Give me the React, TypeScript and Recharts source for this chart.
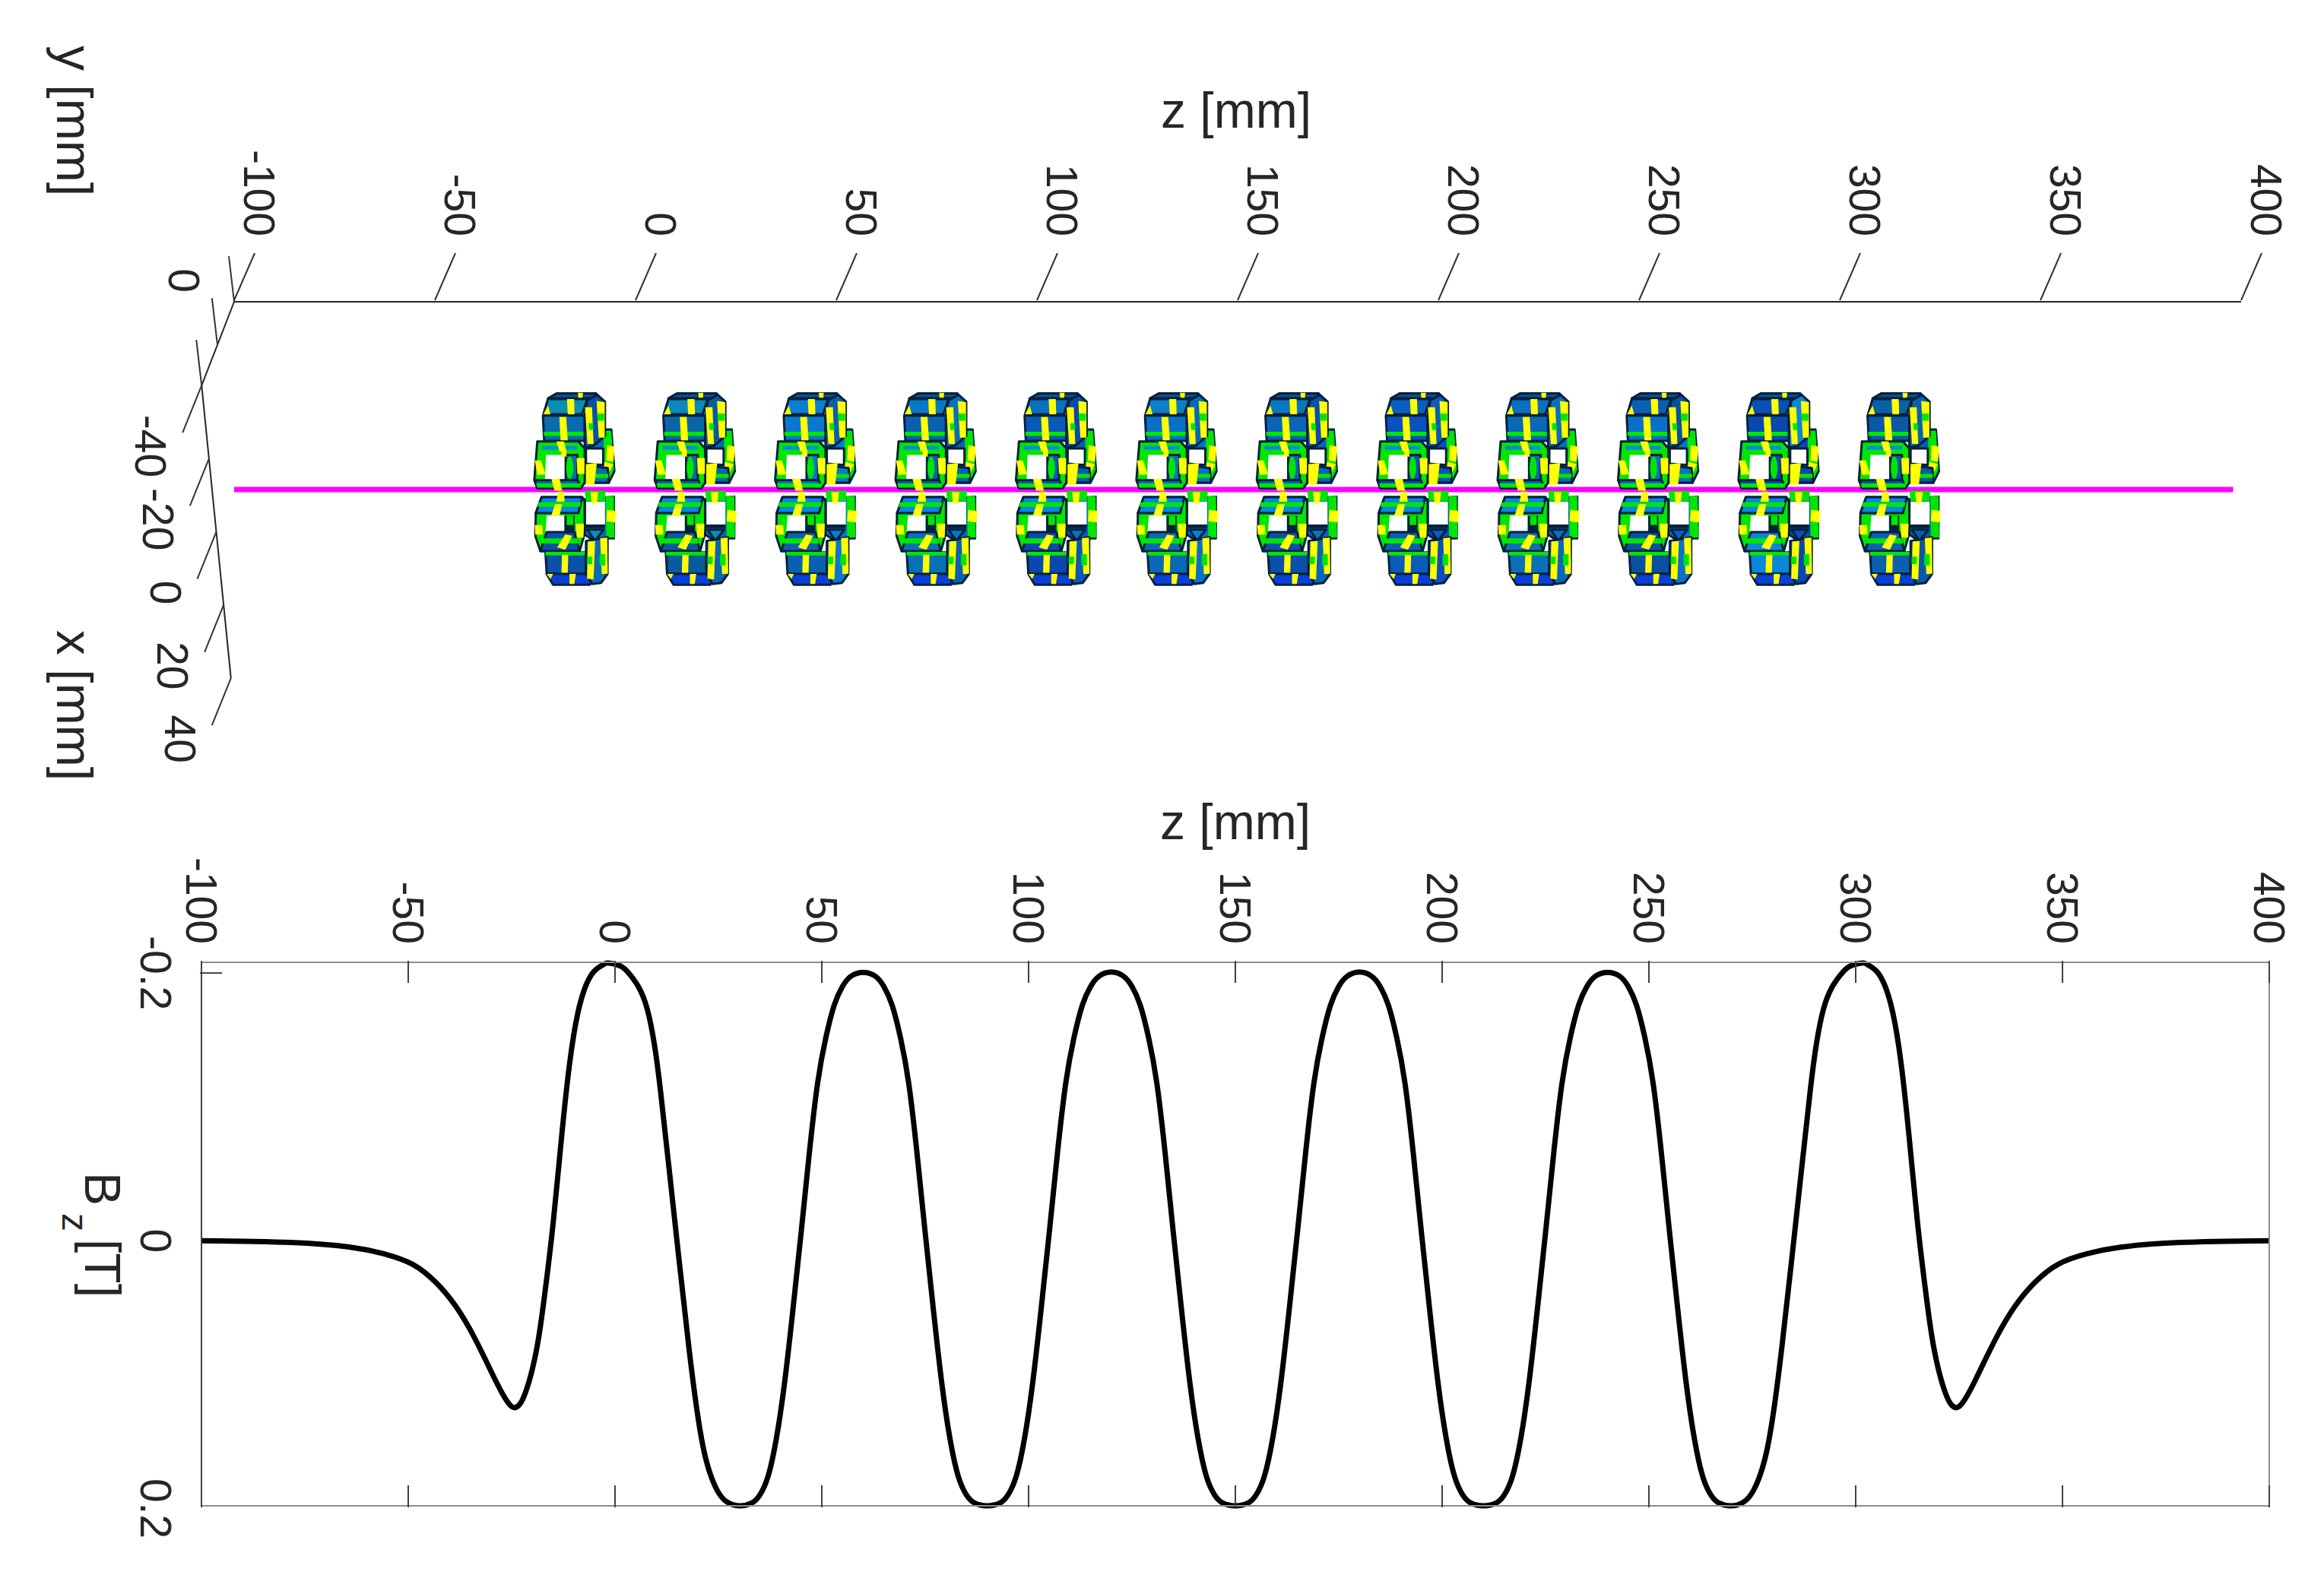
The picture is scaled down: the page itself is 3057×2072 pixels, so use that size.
import React from 'react';
import {
  ComposedChart, LineChart, Line, Scatter, XAxis, YAxis, ReferenceLine,
} from 'recharts';

// z axis, shared by both panels
const zTicks = [-100, -50, 0, 50, 100, 150, 200, 250, 300, 350, 400];

// ---- lower panel: Bz along the axis ----
const bzTicks = [-0.2, 0, 0.2];
const curveZ = [
  -100, -78.4, -64.3, -56.1, -49, -43.2, -38.5, -33.8, -29.1, -26.5, -24.7, -23, -21.5, -20, -18.5, -17, -15, -13, -11, -9, -7, -5, -3, -1.6,
  1.5, 3.7, 5.8, 7.8, 9.5, 11, 13, 15.4, 17.8, 19.6, 21.3, 23, 24.8, 27, 30,
  33, 35, 37, 39, 41, 43, 45, 47, 49, 51, 53, 55, 57, 60,
  63, 65, 67, 69, 71, 73, 75, 77, 79, 81, 83, 85, 87, 90,
  93, 95, 97, 99, 101, 103, 105, 107, 109, 111, 113, 115, 117, 120,
  123, 125, 127, 129, 131, 133, 135, 137, 139, 141, 143, 145, 147, 150,
  153, 155, 157, 159, 161, 163, 165, 167, 169, 171, 173, 175, 177, 180,
  183, 185, 187, 189, 191, 193, 195, 197, 199, 201, 203, 205, 207, 210,
  213, 215, 217, 219, 221, 223, 225, 227, 229, 231, 233, 235, 237, 240,
  243, 245, 247, 249, 251, 253, 255, 257, 259, 261, 263, 265, 267, 270,
  273, 275.2, 277, 278.7, 280.4, 282.2, 284.6, 287, 289, 290.5, 292.2, 294.2, 296.3, 298.5, 301.6,
  303, 305, 307, 309, 311, 313, 315, 317, 318.5, 320, 321.5, 323, 324.7, 326.5, 329.1, 333.8, 338.5, 343.2, 349, 356.1, 364.3, 378.4, 400,
];
const curveBz = [
  0, 0.0013, 0.0047, 0.0096, 0.0175, 0.0315, 0.049, 0.0735, 0.103, 0.118, 0.1244, 0.122, 0.112, 0.096, 0.073, 0.04, -0.012, -0.075, -0.132, -0.17, -0.191, -0.2015, -0.206, -0.2075,
  -0.205, -0.1985, -0.189, -0.173, -0.147, -0.112, -0.056, 0.012, 0.078, 0.122, 0.154, 0.174, 0.187, 0.195, 0.198,
  0.196, 0.19, 0.176, 0.148, 0.106, 0.052, -0.006, -0.066, -0.118, -0.152, -0.176, -0.19, -0.1975, -0.2005,
  -0.1975, -0.19, -0.176, -0.152, -0.118, -0.066, -0.006, 0.052, 0.106, 0.148, 0.176, 0.19, 0.196, 0.198,
  0.196, 0.19, 0.176, 0.148, 0.106, 0.052, -0.006, -0.066, -0.118, -0.152, -0.176, -0.19, -0.1975, -0.2007,
  -0.1975, -0.19, -0.176, -0.152, -0.118, -0.066, -0.006, 0.052, 0.106, 0.148, 0.176, 0.19, 0.196, 0.198,
  0.196, 0.19, 0.176, 0.148, 0.106, 0.052, -0.006, -0.066, -0.118, -0.152, -0.176, -0.19, -0.1975, -0.2007,
  -0.1975, -0.19, -0.176, -0.152, -0.118, -0.066, -0.006, 0.052, 0.106, 0.148, 0.176, 0.19, 0.196, 0.198,
  0.196, 0.19, 0.176, 0.148, 0.106, 0.052, -0.006, -0.066, -0.118, -0.152, -0.176, -0.19, -0.1975, -0.2005,
  -0.1975, -0.19, -0.176, -0.152, -0.118, -0.066, -0.006, 0.052, 0.106, 0.148, 0.176, 0.19, 0.196, 0.198,
  0.195, 0.187, 0.174, 0.154, 0.122, 0.078, 0.012, -0.056, -0.112, -0.147, -0.173, -0.189, -0.1985, -0.205, -0.2075,
  -0.206, -0.2015, -0.191, -0.17, -0.132, -0.075, -0.012, 0.04, 0.073, 0.096, 0.112, 0.122, 0.1244, 0.118, 0.103, 0.0735, 0.049, 0.0315, 0.0175, 0.0096, 0.0047, 0.0013, 0,
];
const curveData = curveZ.map((z, i) => ({ z, bz: curveBz[i] }));

// ---- upper panel ----
const magnetZ = [-15, 15, 45, 75, 105, 135, 165, 195, 225, 255, 285, 315];
const topFaces = ['#0a8fb0', '#0a8ab8', '#0a7fd0', '#0a78c8', '#0a70c0', '#0a80c8', '#0a78c0', '#0a60c0', '#0a70c0', '#0a60b8', '#0a50b8', '#0a60a8'];
const frontFaces = ['#0a6cb0', '#0a66a8', '#0a78d0', '#0a60b0', '#0a58b8', '#0a70c8', '#0a64b8', '#0a50c0', '#0a68b8', '#0a70c8', '#0a48b0', '#0a58a8'];
const lowerFaces = ['#0a50a8', '#0a5aa0', '#0a60b0', '#0a70b8', '#0a48b0', '#0a68b8', '#0a50a8', '#0a5cb8', '#0a70b8', '#0a50a0', '#0a88d8', '#0a60b0'];
const beamZ = [-100, 398];
const beamHeight = 46.7;
const beamData = beamZ.map(z => ({ z, d: beamHeight }));
const magnetData = magnetZ.map((z, i) => ({ z, d: beamHeight, i }));

const xDepthTicks = [-40, -20, 0, 20, 40];
const yDepthTicks = [
  { label: '0', z: -100, d: 0 },
  { label: '', z: -104.2, d: 10.4 },
  { label: '', z: -108.1, d: 20.8 },
];
// the x axis of the 3D box runs down the page, almost straight
const xDepthData = xDepthTicks.map(v => ({ label: String(v), z: -104.45 + v * 0.09125, d: 57.2 + v * 0.91 }));

const TEXT = '#262626';
const FONT = '"Liberation Sans", Arial, sans-serif';
const EDGE = '#04203c';
const GREEN = '#00e600';
const YELLOW = '#ffff00';
const TICK_FONT = 57;
const TITLE_FONT = 66;

function Poly({ p, fill, edge }: { p: string; fill: string; edge?: boolean }) {
  return <polygon points={p} fill={fill} stroke={edge ? EDGE : 'none'} strokeWidth={edge ? 9 : 0} strokeLinejoin="round" />;
}

// right half of a magnet, sits behind the beam line
function MagnetBack(props: any) {
  const { cx, cy, payload } = props;
  const front = frontFaces[payload.i];
  return (
    <g transform={`translate(${cx},${cy}) scale(0.3333)`}>
      <Poly p="117,-237 142,-237 154,-72 132,-27 37,-27 37,-165" fill={front} edge />
      <Poly p="112,-232 142,-232 152,-80 130,-30 110,-30" fill={GREEN} />
      <Poly p="42,-162 110,-162 110,-97 42,-102" fill="#ffffff" edge />
      <Poly p="125,-175 155,-170 150,-110 122,-115" fill={YELLOW} />
      <Poly p="115,-110 150,-100 130,-60 112,-70" fill={YELLOW} />
      <Poly p="37,-95 128,-85 132,-27 37,-27" fill={front} edge />
      <Poly p="37,-62 130,-62 130,-46 37,-46" fill={GREEN} />
      <Poly p="40,-100 85,-105 75,-20 40,-20" fill={YELLOW} />
      <Poly p="37,38 152,28 152,193 112,193 67,198 37,178" fill={front} edge />
      <Poly p="42,48 117,48 117,138 42,138" fill="#ffffff" />
      <Poly p="42,138 117,138 117,152 42,152" fill={EDGE} />
      <Poly p="120,25 152,25 155,190 122,190" fill={GREEN} />
      <Poly p="125,80 162,85 157,130 122,125" fill={YELLOW} />
      <Poly p="37,5 120,5 117,46 42,46" fill={GREEN} />
      <Poly p="60,10 90,10 85,55 65,55" fill={YELLOW} />
      <Poly p="47,158 112,158 77,203" fill={topFaces[payload.i]} edge />
    </g>
  );
}

// left half and the outer blocks, these cover the beam line
function MagnetFront(props: any) {
  const { cx, cy, payload } = props;
  const top = topFaces[payload.i];
  const front = frontFaces[payload.i];
  const lower = lowerFaces[payload.i];
  return (
    <g transform={`translate(${cx},${cy}) scale(0.3333)`}>
      {/* upper block */}
      <Poly p="-108,-360 -73,-380 82,-380 92,-360" fill="#0a4f8f" edge />
      <Poly p="10,-382 30,-382 28,-362 12,-362" fill={YELLOW} />
      <Poly p="-108,-357 47,-357 27,-297 -126,-297" fill={top} edge />
      <Poly p="-33,-357 -5,-357 -3,-297 -30,-297" fill={YELLOW} />
      <Poly p="-126,-297 -108,-332 -98,-297" fill={YELLOW} />
      <Poly p="-128,-292 37,-292 37,-192 -123,-192" fill={front} edge />
      <Poly p="-125,-228 37,-228 37,-212 -124,-212" fill={GREEN} />
      <Poly p="-63,-287 -36,-287 -30,-192 -58,-192" fill={YELLOW} />
      <Poly p="37,-292 47,-352 87,-374 117,-347 117,-212 72,-172 37,-167" fill={lower} edge />
      <Poly p="38,-325 66,-325 72,-180 48,-180" fill={YELLOW} />
      <Poly p="84,-350 116,-345 116,-205 92,-205" fill={YELLOW} />
      <Poly p="52,-262 70,-262 72,-235 54,-235" fill={GREEN} />
      <Poly p="86,-300 114,-300 114,-272 88,-272" fill={GREEN} />

      {/* upper window frame */}
      <Poly p="-150,-190 12,-190 37,-162 37,-27 22,-6 -150,-6 -162,-37" fill={GREEN} edge />
      <Poly p="-132,-172 8,-172 8,-158 -132,-158" fill="#0a86e0" />
      <Poly p="-116,-137 -38,-137 -38,-37 -120,-37" fill="#ffffff" />
      <Poly p="-38,-137 8,-137 8,-37 -38,-37" fill={front} edge />
      <ellipse cx={-22} cy={-86} rx={14} ry={44} fill={GREEN} />
      <Poly p="-160,-37 10,-37 22,-6 -150,-6" fill={front} edge />
      <Poly p="-155,-24 22,-24 22,-8 -150,-8" fill={GREEN} />
      <Poly p="-75,-190 -45,-190 -35,-150 -62,-150" fill={YELLOW} />
      <Poly p="-55,-155 -35,-155 -35,-130 -55,-130" fill={YELLOW} />
      <Poly p="-160,-115 -135,-115 -118,-60 -150,-58" fill={YELLOW} />
      <Poly p="5,-125 36,-125 36,-62 8,-62" fill={YELLOW} />
      <Poly p="-95,-42 -62,-42 -52,4 -82,4" fill={YELLOW} />

      {/* lower window frame */}
      <Poly p="-156,93 -133,30 27,30 37,48 37,173 17,243 -138,243 -158,183" fill={GREEN} edge />
      <Poly p="-156,93 -133,30 27,30 12,93" fill="#0a86e0" edge />
      <Poly p="-145,50 22,50 18,68 -150,68" fill={GREEN} />
      <Poly p="-80,58 -52,58 -62,103 -95,103" fill={YELLOW} />
      <Poly p="-68,8 -45,8 -42,48 -75,48" fill={YELLOW} />
      <Poly p="-113,103 -43,103 -43,168 -118,168" fill="#ffffff" />
      <Poly p="-43,103 -3,103 -3,168 -43,168" fill={EDGE} />
      <Poly p="-34,103 -8,103 -8,140 -34,140" fill={GREEN} />
      <Poly p="-113,168 -3,168 17,243 -138,243" fill={lower} edge />
      <Poly p="-130,193 8,193 12,213 -134,213" fill={GREEN} />
      <Poly p="-40,178 -12,182 -40,238 -72,228" fill={YELLOW} />
      <Poly p="-160,140 -130,140 -128,178 -158,178" fill={YELLOW} />
      <Poly p="2,135 34,135 32,190 6,190" fill={YELLOW} />

      {/* lower block */}
      <Poly p="-118,248 42,248 42,333 -113,333" fill={lower} edge />
      <Poly p="-118,246 42,246 42,260 -118,260" fill={GREEN} />
      <Poly p="-53,258 -28,258 -30,330 -55,330" fill={YELLOW} />
      <Poly p="-113,333 47,333 67,358 57,376 -88,376" fill="#0a40d8" edge />
      <Poly p="-23,333 2,333 -4,373 -23,373" fill={YELLOW} />
      <Poly p="-113,333 -88,333 -98,353" fill={YELLOW} />
      <Poly p="42,203 127,188 127,333 102,368 67,373 42,333" fill={front} edge />
      <Poly p="50,205 78,203 72,355 46,352" fill={YELLOW} />
      <Poly p="98,192 126,190 128,332 104,334" fill={YELLOW} />
      <Poly p="46,265 68,265 66,295 46,295" fill={GREEN} />
      <Poly p="96,255 118,255 118,300 96,300" fill={GREEN} />
    </g>
  );
}

function TopZTick(props: any) {
  const { x, y, payload } = props;
  return (
    <g>
      <line x1={x} y1={y} x2={x + 27} y2={y - 62} stroke="#333333" strokeWidth={2} />
      <text
        transform={`rotate(90 ${x + 33} ${y - 84})`}
        x={x + 33} y={y - 84}
        textAnchor="end" dominantBaseline="central"
        fontSize={TICK_FONT} fontFamily={FONT} fill={TEXT}
      >{payload.value}</text>
    </g>
  );
}

function XDepthTick(props: any) {
  const { cx, cy, payload } = props;
  return (
    <g>
      <line x1={cx} y1={cy} x2={cx - 25} y2={cy + 62} stroke="#333333" strokeWidth={2} />
      <text
        transform={`rotate(90 ${cx - 67} ${cy + 80})`}
        x={cx - 67} y={cy + 80}
        textAnchor="middle" dominantBaseline="central"
        fontSize={TICK_FONT} fontFamily={FONT} fill={TEXT}
      >{payload.label}</text>
    </g>
  );
}

function YDepthTick(props: any) {
  const { cx, cy, payload } = props;
  return (
    <g>
      <line x1={cx} y1={cy} x2={cx - 7} y2={cy - 60} stroke="#333333" strokeWidth={2} />
      <text
        transform={`rotate(90 ${cx - 66} ${cy - 28})`}
        x={cx - 66} y={cy - 28}
        textAnchor="middle" dominantBaseline="central"
        fontSize={TICK_FONT} fontFamily={FONT} fill={TEXT}
      >{payload.label}</text>
    </g>
  );
}

function UpperZTickLower(props: any) {
  const { x, y, payload } = props;
  return (
    <g>
      <line x1={x} y1={y} x2={x} y2={y + 29} stroke="#404040" strokeWidth={2} />
      <text
        transform={`rotate(90 ${x} ${y - 22})`}
        x={x} y={y - 22}
        textAnchor="end" dominantBaseline="central"
        fontSize={TICK_FONT} fontFamily={FONT} fill={TEXT}
      >{payload.value}</text>
    </g>
  );
}

function BottomZTick(props: any) {
  const { x, y } = props;
  return <line x1={x} y1={y} x2={x} y2={y - 29} stroke="#404040" strokeWidth={2} />;
}

function LeftBzTick(props: any) {
  const { x, y, payload } = props;
  return (
    <g>
      {payload.value < 0 && <line x1={x} y1={y} x2={x + 29} y2={y} stroke="#404040" strokeWidth={2} />}
      <text
        transform={`rotate(90 ${x - 58} ${y})`}
        x={x - 58} y={y}
        textAnchor="middle" dominantBaseline="central"
        fontSize={TICK_FONT} fontFamily={FONT} fill={TEXT}
      >{payload.value}</text>
    </g>
  );
}

function RightBzTick(props: any) {
  const { x, y, payload } = props;
  if (payload.value >= 0) return <g />;
  return <line x1={x} y1={y} x2={x - 29} y2={y} stroke="#404040" strokeWidth={2} />;
}

function RotatedTitle({ x, y, children }: { x: number; y: number; children: React.ReactNode }) {
  return (
    <text transform={`translate(${x},${y}) rotate(90)`} textAnchor="middle" fontSize={TITLE_FONT} fontFamily={FONT} fill={TEXT}>
      {children}
    </text>
  );
}

function UpperPanel() {
  return (
    <ComposedChart
      width={3057} height={1040}
      margin={{ top: 396, right: 109, bottom: 114, left: 202.4 }}
    >
      {/* domain starts left of -100 so the 3D box corner stays inside the plot */}
      <XAxis
        dataKey="z" type="number" orientation="top" domain={[-120, 400]}
        ticks={zTicks} interval={0} height={1} tickSize={0} tickLine={false}
        axisLine={false}
        tick={<TopZTick />}
      />
      <YAxis dataKey="d" type="number" reversed domain={[0, 100]} hide />

      <ReferenceLine segment={[{ x: -100, y: 0 }, { x: 400, y: 0 }]} stroke="#262626" strokeWidth={2} />
      <ReferenceLine segment={[{ x: -100, y: 0 }, { x: -108.1, y: 20.8 }]} stroke="#262626" strokeWidth={2} />
      <ReferenceLine segment={[{ x: -108.1, y: 20.8 }, { x: -100.8, y: 93.6 }]} stroke="#262626" strokeWidth={2} />
      <Scatter data={yDepthTicks} shape={<YDepthTick />} isAnimationActive={false} />
      <Scatter data={xDepthData} shape={<XDepthTick />} isAnimationActive={false} />

      <Scatter data={magnetData} shape={<MagnetBack />} isAnimationActive={false} />
      <Line
        data={beamData} dataKey="d" type="linear"
        stroke="#ff00ff" strokeWidth={7} dot={false} isAnimationActive={false}
      />
      <Scatter data={magnetData} shape={<MagnetFront />} isAnimationActive={false} />

      <text x={1626} y={168} textAnchor="middle" fontSize={TITLE_FONT} fontFamily={FONT} fill={TEXT}>z [mm]</text>
      <RotatedTitle x={75} y={159}>y [mm]</RotatedTitle>
      <RotatedTitle x={75} y={928}>x [mm]</RotatedTitle>
    </ComposedChart>
  );
}

function LowerPanel() {
  return (
    <LineChart
      width={3057} height={1032} data={curveData}
      margin={{ top: 225, right: 71, bottom: 90, left: 264 }}
    >
      <XAxis
        xAxisId="top" dataKey="z" type="number" orientation="top" domain={[-100, 400]}
        ticks={zTicks} interval={0} height={1} tickSize={0} tickLine={false}
        axisLine={{ stroke: '#8c8c8c', strokeWidth: 2 }}
        tick={<UpperZTickLower />}
      />
      <XAxis
        xAxisId="bottom" dataKey="z" type="number" orientation="bottom" domain={[-100, 400]}
        ticks={zTicks} interval={0} height={1} tickSize={0} tickLine={false}
        axisLine={{ stroke: '#8c8c8c', strokeWidth: 2 }}
        tick={<BottomZTick />}
      />
      <YAxis
        yAxisId="left" type="number" reversed domain={[-0.208, 0.198]}
        ticks={bzTicks} interval={0} width={1} tickSize={0} tickLine={false}
        axisLine={{ stroke: '#404040', strokeWidth: 2 }}
        tick={<LeftBzTick />}
      />
      <YAxis
        yAxisId="right" orientation="right" type="number" reversed domain={[-0.208, 0.198]}
        ticks={bzTicks} interval={0} width={1} tickSize={0} tickLine={false}
        axisLine={{ stroke: '#8c8c8c', strokeWidth: 2 }}
        tick={<RightBzTick />}
      />
      <Line
        xAxisId="top" yAxisId="left" dataKey="bz" type="natural"
        stroke="#000000" strokeWidth={7} dot={false} isAnimationActive={false}
      />

      <text x={1625} y={64} textAnchor="middle" fontSize={TITLE_FONT} fontFamily={FONT} fill={TEXT}>z [mm]</text>
      <text transform="translate(112,502) rotate(90)" fontSize={TITLE_FONT} fontFamily={FONT} fill={TEXT}>
        B<tspan dy={30} dx={10} fontSize={48}>z</tspan><tspan dy={-30} dx={10}>[T]</tspan>
      </text>
    </LineChart>
  );
}

export default function App() {
  return (
    <div style={{ position: 'absolute', left: 0, top: 0, width: 3057, height: 2072, background: '#ffffff' }}>
      <div style={{ position: 'absolute', left: 0, top: 0 }}><UpperPanel /></div>
      <div style={{ position: 'absolute', left: 0, top: 1040 }}><LowerPanel /></div>
    </div>
  );
}
